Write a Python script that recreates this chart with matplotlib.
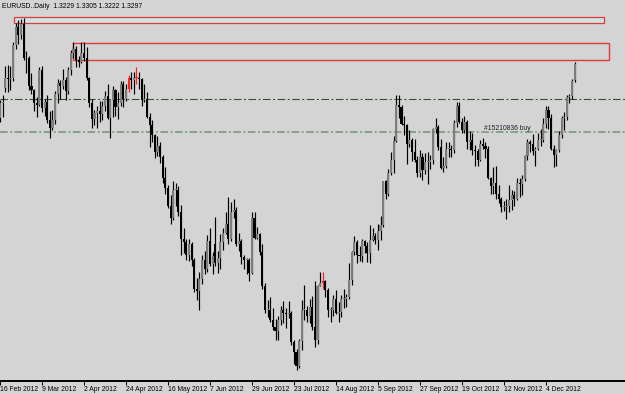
import numpy as np
import matplotlib.pyplot as plt
import matplotlib as mpl
from matplotlib.patches import Rectangle

mpl.rcParams['lines.scale_dashes'] = False
mpl.rcParams['font.family'] = ['Liberation Sans', 'DejaVu Sans']

# EURUSD daily, 16 Feb 2012 .. 19 Dec 2012 (one row = 10 bars)
opens = [
    1.3075, 1.3135, 1.3200, 1.3240, 1.3235, 1.3240, 1.3375, 1.3450, 1.3415, 1.3460,
    1.3320, 1.3320, 1.3205, 1.3190, 1.3135, 1.3130, 1.3270, 1.3115, 1.3140, 1.3065,
    1.3035, 1.3065, 1.3175, 1.3220, 1.3205, 1.3230, 1.3185, 1.3270, 1.3340, 1.3360,
    1.3315, 1.3305, 1.3340, 1.3320, 1.3240, 1.3135, 1.3070, 1.3095, 1.3105, 1.3090,
    1.3125, 1.3165, 1.3075, 1.3150, 1.3190, 1.3120, 1.3135, 1.3215, 1.3155, 1.3195,
    1.3240, 1.3230, 1.3240, 1.3240, 1.3235, 1.3150, 1.3155, 1.3080, 1.3045, 1.3005,
    1.2935, 1.2960, 1.2915, 1.2830, 1.2790, 1.2715, 1.2665, 1.2780, 1.2780, 1.2690,
    1.2580, 1.2565, 1.2515, 1.2560, 1.2495, 1.2375, 1.2365, 1.2415, 1.2495, 1.2455,
    1.2570, 1.2475, 1.2560, 1.2480, 1.2500, 1.2565, 1.2605, 1.2640, 1.2580, 1.2690,
    1.2700, 1.2560, 1.2570, 1.2505, 1.2495, 1.2495, 1.2440, 1.2665, 1.2585, 1.2600,
    1.2525, 1.2385, 1.2290, 1.2290, 1.2245, 1.2220, 1.2200, 1.2245, 1.2290, 1.2275,
    1.2270, 1.2275, 1.2155, 1.2115, 1.2060, 1.2160, 1.2290, 1.2290, 1.2265, 1.2300,
    1.2220, 1.2165, 1.2385, 1.2400, 1.2405, 1.2370, 1.2290, 1.2290, 1.2335, 1.2275,
    1.2280, 1.2335, 1.2335, 1.2340, 1.2410, 1.2525, 1.2565, 1.2515, 1.2510, 1.2570,
    1.2550, 1.2520, 1.2575, 1.2590, 1.2575, 1.2610, 1.2635, 1.2815, 1.2765, 1.2850,
    1.2905, 1.2980, 1.3130, 1.3120, 1.3050, 1.3045, 1.2970, 1.2985, 1.2935, 1.2905,
    1.2850, 1.2915, 1.2860, 1.2895, 1.2895, 1.2905, 1.3030, 1.3040, 1.2955, 1.2870,
    1.2880, 1.2950, 1.2950, 1.2945, 1.3055, 1.3125, 1.3060, 1.3025, 1.3060, 1.2975,
    1.2985, 1.2945, 1.2940, 1.2905, 1.2970, 1.2960, 1.2950, 1.2830, 1.2795, 1.2810,
    1.2765, 1.2745, 1.2710, 1.2710, 1.2715, 1.2740, 1.2760, 1.2745, 1.2810, 1.2805,
    1.2825, 1.2920, 1.2975, 1.2970, 1.2940, 1.2950, 1.2985, 1.2985, 1.3050, 1.3110,
    1.3075, 1.2950, 1.2925, 1.2945, 1.3005, 1.3075, 1.3080, 1.3160, 1.3165, 1.3229,
]
highs = [
    1.3150, 1.3170, 1.3290, 1.3293, 1.3290, 1.3385, 1.3465, 1.3475, 1.3480, 1.3486,
    1.3350, 1.3330, 1.3260, 1.3195, 1.3160, 1.3285, 1.3290, 1.3155, 1.3170, 1.3105,
    1.3110, 1.3185, 1.3235, 1.3230, 1.3275, 1.3245, 1.3285, 1.3355, 1.3385, 1.3370,
    1.3330, 1.3385, 1.3385, 1.3365, 1.3245, 1.3155, 1.3110, 1.3125, 1.3145, 1.3145,
    1.3185, 1.3215, 1.3155, 1.3205, 1.3195, 1.3180, 1.3225, 1.3225, 1.3215, 1.3250,
    1.3265, 1.3265, 1.3285, 1.3265, 1.3240, 1.3215, 1.3180, 1.3095, 1.3065, 1.3010,
    1.3000, 1.2975, 1.2925, 1.2875, 1.2800, 1.2760, 1.2815, 1.2810, 1.2795, 1.2720,
    1.2625, 1.2580, 1.2580, 1.2565, 1.2500, 1.2420, 1.2445, 1.2515, 1.2530, 1.2595,
    1.2625, 1.2525, 1.2670, 1.2530, 1.2600, 1.2625, 1.2690, 1.2750, 1.2730, 1.2745,
    1.2710, 1.2605, 1.2580, 1.2515, 1.2500, 1.2500, 1.2690, 1.2690, 1.2630, 1.2605,
    1.2560, 1.2400, 1.2330, 1.2340, 1.2295, 1.2250, 1.2265, 1.2305, 1.2325, 1.2295,
    1.2325, 1.2285, 1.2165, 1.2130, 1.2170, 1.2330, 1.2390, 1.2305, 1.2335, 1.2345,
    1.2405, 1.2390, 1.2445, 1.2445, 1.2410, 1.2380, 1.2300, 1.2350, 1.2370, 1.2320,
    1.2350, 1.2375, 1.2355, 1.2480, 1.2530, 1.2590, 1.2575, 1.2550, 1.2580, 1.2575,
    1.2565, 1.2635, 1.2625, 1.2605, 1.2640, 1.2675, 1.2815, 1.2820, 1.2865, 1.2935,
    1.3000, 1.3170, 1.3170, 1.3130, 1.3085, 1.3050, 1.3025, 1.2995, 1.2990, 1.2920,
    1.2945, 1.2930, 1.2930, 1.2935, 1.2925, 1.3035, 1.3075, 1.3045, 1.2990, 1.2915,
    1.2975, 1.2975, 1.2965, 1.3065, 1.3140, 1.3140, 1.3075, 1.3085, 1.3065, 1.3020,
    1.3015, 1.2965, 1.2950, 1.2985, 1.2995, 1.2975, 1.2960, 1.2835, 1.2875, 1.2880,
    1.2800, 1.2750, 1.2735, 1.2745, 1.2800, 1.2780, 1.2775, 1.2830, 1.2830, 1.2840,
    1.2925, 1.2990, 1.2985, 1.3010, 1.2955, 1.3015, 1.3030, 1.3075, 1.3125, 1.3125,
    1.3090, 1.2965, 1.2950, 1.3020, 1.3085, 1.3100, 1.3170, 1.3175, 1.3235, 1.3305,
]
lows = [
    1.3060, 1.3080, 1.3180, 1.3180, 1.3190, 1.3225, 1.3360, 1.3380, 1.3400, 1.3315,
    1.3260, 1.3190, 1.3175, 1.3105, 1.3080, 1.3125, 1.3100, 1.3085, 1.3055, 1.2995,
    1.3025, 1.3050, 1.3135, 1.3155, 1.3195, 1.3150, 1.3175, 1.3250, 1.3320, 1.3285,
    1.3285, 1.3300, 1.3310, 1.3230, 1.3120, 1.3035, 1.3045, 1.3035, 1.3060, 1.3065,
    1.3105, 1.3070, 1.2995, 1.3080, 1.3085, 1.3070, 1.3125, 1.3120, 1.3145, 1.3180,
    1.3195, 1.3175, 1.3215, 1.3195, 1.3125, 1.3140, 1.3075, 1.2955, 1.2975, 1.2910,
    1.2920, 1.2890, 1.2810, 1.2765, 1.2705, 1.2640, 1.2655, 1.2715, 1.2675, 1.2515,
    1.2520, 1.2495, 1.2490, 1.2470, 1.2360, 1.2330, 1.2288, 1.2395, 1.2435, 1.2445,
    1.2470, 1.2435, 1.2470, 1.2440, 1.2455, 1.2535, 1.2600, 1.2560, 1.2570, 1.2665,
    1.2550, 1.2530, 1.2475, 1.2455, 1.2435, 1.2405, 1.2435, 1.2580, 1.2580, 1.2515,
    1.2375, 1.2275, 1.2260, 1.2240, 1.2205, 1.2165, 1.2165, 1.2225, 1.2235, 1.2215,
    1.2255, 1.2145, 1.2065, 1.2042, 1.2050, 1.2125, 1.2245, 1.2240, 1.2235, 1.2205,
    1.2135, 1.2150, 1.2385, 1.2375, 1.2340, 1.2260, 1.2240, 1.2265, 1.2270, 1.2240,
    1.2260, 1.2295, 1.2300, 1.2335, 1.2390, 1.2515, 1.2480, 1.2490, 1.2485, 1.2520,
    1.2485, 1.2480, 1.2570, 1.2560, 1.2535, 1.2575, 1.2630, 1.2745, 1.2755, 1.2840,
    1.2850, 1.2975, 1.3075, 1.3045, 1.3005, 1.2885, 1.2955, 1.2900, 1.2895, 1.2835,
    1.2835, 1.2820, 1.2845, 1.2805, 1.2865, 1.2885, 1.3015, 1.2945, 1.2865, 1.2855,
    1.2870, 1.2915, 1.2915, 1.2930, 1.3040, 1.3055, 1.3015, 1.3015, 1.2950, 1.2945,
    1.2925, 1.2880, 1.2880, 1.2900, 1.2950, 1.2910, 1.2825, 1.2765, 1.2765, 1.2745,
    1.2725, 1.2690, 1.2695, 1.2660, 1.2690, 1.2700, 1.2715, 1.2740, 1.2750, 1.2760,
    1.2815, 1.2905, 1.2935, 1.2925, 1.2880, 1.2945, 1.2960, 1.2975, 1.3035, 1.3030,
    1.2945, 1.2875, 1.2880, 1.2935, 1.2995, 1.3025, 1.3065, 1.3135, 1.3155, 1.3222,
]
closes = [
    1.3135, 1.3140, 1.3240, 1.3235, 1.3240, 1.3375, 1.3450, 1.3415, 1.3460, 1.3320,
    1.3320, 1.3205, 1.3190, 1.3135, 1.3130, 1.3270, 1.3115, 1.3140, 1.3065, 1.3035,
    1.3065, 1.3175, 1.3220, 1.3205, 1.3230, 1.3185, 1.3270, 1.3340, 1.3360, 1.3315,
    1.3305, 1.3340, 1.3320, 1.3240, 1.3135, 1.3070, 1.3095, 1.3105, 1.3090, 1.3125,
    1.3165, 1.3075, 1.3150, 1.3190, 1.3120, 1.3135, 1.3215, 1.3155, 1.3195, 1.3240,
    1.3230, 1.3240, 1.3240, 1.3235, 1.3150, 1.3155, 1.3080, 1.3045, 1.3005, 1.2935,
    1.2960, 1.2915, 1.2830, 1.2790, 1.2715, 1.2665, 1.2780, 1.2780, 1.2690, 1.2580,
    1.2565, 1.2515, 1.2560, 1.2495, 1.2375, 1.2365, 1.2415, 1.2495, 1.2455, 1.2570,
    1.2475, 1.2510, 1.2480, 1.2500, 1.2565, 1.2605, 1.2640, 1.2580, 1.2690, 1.2700,
    1.2560, 1.2570, 1.2505, 1.2495, 1.2495, 1.2440, 1.2665, 1.2585, 1.2600, 1.2525,
    1.2385, 1.2290, 1.2290, 1.2245, 1.2220, 1.2200, 1.2245, 1.2290, 1.2275, 1.2270,
    1.2275, 1.2155, 1.2115, 1.2060, 1.2160, 1.2290, 1.2290, 1.2265, 1.2300, 1.2220,
    1.2165, 1.2385, 1.2400, 1.2405, 1.2370, 1.2290, 1.2290, 1.2335, 1.2275, 1.2280,
    1.2335, 1.2335, 1.2340, 1.2410, 1.2525, 1.2565, 1.2515, 1.2510, 1.2570, 1.2550,
    1.2520, 1.2575, 1.2590, 1.2575, 1.2610, 1.2635, 1.2815, 1.2765, 1.2850, 1.2905,
    1.2980, 1.3130, 1.3120, 1.3050, 1.3045, 1.2970, 1.2985, 1.2935, 1.2905, 1.2850,
    1.2915, 1.2860, 1.2895, 1.2895, 1.2905, 1.3030, 1.3040, 1.2955, 1.2870, 1.2880,
    1.2950, 1.2950, 1.2945, 1.3055, 1.3125, 1.3060, 1.3025, 1.3060, 1.2975, 1.2985,
    1.2945, 1.2940, 1.2905, 1.2970, 1.2960, 1.2950, 1.2830, 1.2795, 1.2810, 1.2765,
    1.2745, 1.2710, 1.2710, 1.2715, 1.2740, 1.2760, 1.2745, 1.2810, 1.2805, 1.2825,
    1.2920, 1.2975, 1.2970, 1.2940, 1.2950, 1.2985, 1.2985, 1.3050, 1.3110, 1.3075,
    1.2950, 1.2925, 1.2945, 1.3005, 1.3075, 1.3080, 1.3160, 1.3165, 1.3225, 1.3297,
]
highlight = [49, 52, 123]   # bars drawn in red

tick_pos = [0, 16, 32, 48, 64, 80, 96, 112, 128, 144, 160, 176, 192, 208]
tick_labels = ['16 Feb 2012', '9 Mar 2012', '2 Apr 2012', '24 Apr 2012', '16 May 2012',
               '7 Jun 2012', '29 Jun 2012', '23 Jul 2012', '14 Aug 2012', '5 Sep 2012',
               '27 Sep 2012', '19 Oct 2012', '12 Nov 2012', '4 Dec 2012']

order_level = 1.3018
line_level = 1.3153
header = 'EURUSD..Daily  1.3229 1.3305 1.3222 1.3297'

bg = '#d4d4d4'
fs = 4.9
o, h, l, c = map(np.array, (opens, highs, lows, closes))
x = np.arange(len(o))

fig = plt.figure(figsize=(6.25, 3.94), dpi=100, facecolor=bg)
ax = fig.add_axes([0, 13 / 394, 1, 381 / 394])
ax.set_facecolor(bg)

# horizontal levels
ax.axhline(line_level, color='#2a5a2a', lw=0.8, dashes=(5.5, 1.8, 1.4, 1.8))
ax.axhline(order_level, color='#6a9a6a', lw=1.1, dashes=(5.5, 1.8, 1.4, 1.8))
ax.text(184.6, order_level + 0.0016, '#15210836 buy', fontsize=fs, color='#202030',
        va='center', ha='left')

# rectangles
ax.add_patch(Rectangle((5.3, 1.3465), 230.2 - 5.3, 1.3489 - 1.3465,
                       facecolor='#cfe3e3', edgecolor='#e03a3a', lw=0.9, zorder=1))
ax.add_patch(Rectangle((27.8, 1.3313), 232.1 - 27.8, 1.3383 - 1.3313,
                       facecolor='none', edgecolor='#e03a3a', lw=1.0, zorder=1))

# candles: gray = up day, black = down day
up = c >= o
col = np.where(up, '#7c7c7c', '#000000').astype(object)
wick_col = np.array(['#000000'] * len(o), dtype=object)
for i in highlight:
    col[i] = '#ff2020'
    wick_col[i] = '#ff2020'
ax.vlines(x, l, h, colors=list(wick_col), lw=0.85, zorder=3)
body_lo = np.minimum(o, c)
body_h = np.maximum(np.abs(c - o), 0.0003)
ax.bar(x, body_h, bottom=body_lo, width=0.8, color=list(col), linewidth=0, zorder=4)

ax.set_xlim(0.4, 0.4 + 625 / 2.6286)
ax.set_ylim(1.3559 - 381 * 0.00041, 1.3559)

for s in ['top', 'left', 'right']:
    ax.spines[s].set_visible(False)
ax.spines['bottom'].set_linewidth(1.4)
ax.set_yticks([])
ax.set_xticks(tick_pos)
ax.set_xticklabels(tick_labels, ha='left', fontsize=fs)
ax.tick_params(axis='x', direction='out', length=3, width=0.7, pad=0.8)

fig.text(2 / 625, 1 - 7 / 394, header, fontsize=fs, va='center', ha='left')

fig.savefig('out.png', dpi=100, facecolor=bg)
